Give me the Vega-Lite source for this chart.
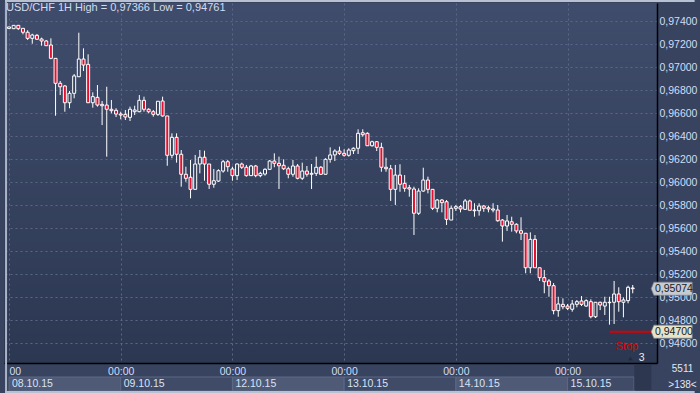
{
  "$schema": "https://vega.github.io/schema/vega-lite/v6.json",
  "background": "#38435f",
  "padding": {"left": 4, "top": 3, "right": 43, "bottom": 30},
  "autosize": "none",
  "width": 653,
  "height": 360,
  "view": {"stroke": null, "fill": {"gradient": "linear", "x1": 0, "y1": 0, "x2": 0, "y2": 1, "stops": [{"offset": 0, "color": "#3f4c6b"}, {"offset": 1, "color": "#2c3852"}]}},
  "config": {
    "locale": {"number": {"decimal": ",", "thousands": ".", "grouping": [3], "currency": ["", ""]}},
    "axis": {"labelFont": "Liberation Sans", "labelFontSize": 10.5, "labelColor": "#d0def6", "ticks": false, "title": null, "gridColor": "#5a6785", "gridDash": [2, 3], "gridWidth": 1, "domainColor": "#000000", "domainWidth": 1.5},
    "text": {"font": "Liberation Sans"}
  },
  "title": {"text": "USD/CHF 1H High = 0,97366 Low = 0,94761", "anchor": "start", "frame": "group", "offset": -13, "dx": 2, "font": "Liberation Sans", "fontSize": 11, "fontWeight": "normal", "color": "#d0dcf0"},
  "datasets": {
    "candles": [
      {"n":0,"o":0.97337,"h":0.97352,"l":0.97335,"c":0.97350},
      {"n":1,"o":0.97335,"h":0.97366,"l":0.97335,"c":0.97364},
      {"n":2,"o":0.97364,"h":0.97365,"l":0.97324,"c":0.97335},
      {"n":3,"o":0.97338,"h":0.97338,"l":0.97286,"c":0.97304},
      {"n":4,"o":0.97304,"h":0.97321,"l":0.97237,"c":0.97251},
      {"n":5,"o":0.97251,"h":0.97291,"l":0.97204,"c":0.97280},
      {"n":6,"o":0.97277,"h":0.97289,"l":0.97237,"c":0.97243},
      {"n":7,"o":0.97245,"h":0.97257,"l":0.97187,"c":0.97228},
      {"n":8,"o":0.97228,"h":0.97237,"l":0.97184,"c":0.97187},
      {"n":9,"o":0.97193,"h":0.97251,"l":0.97069,"c":0.97077},
      {"n":10,"o":0.97077,"h":0.97080,"l":0.96578,"c":0.96860},
      {"n":11,"o":0.96860,"h":0.96880,"l":0.96758,"c":0.96830},
      {"n":12,"o":0.96837,"h":0.96845,"l":0.96613,"c":0.96691},
      {"n":13,"o":0.96691,"h":0.96793,"l":0.96643,"c":0.96773},
      {"n":14,"o":0.96773,"h":0.96941,"l":0.96730,"c":0.96924},
      {"n":15,"o":0.96917,"h":0.97300,"l":0.96917,"c":0.97071},
      {"n":16,"o":0.97071,"h":0.97164,"l":0.96967,"c":0.97019},
      {"n":17,"o":0.97025,"h":0.97112,"l":0.96691,"c":0.96691},
      {"n":18,"o":0.96691,"h":0.96782,"l":0.96648,"c":0.96744},
      {"n":19,"o":0.96738,"h":0.96845,"l":0.96657,"c":0.96671},
      {"n":20,"o":0.96677,"h":0.96706,"l":0.96497,"c":0.96665},
      {"n":21,"o":0.96671,"h":0.96830,"l":0.96222,"c":0.96634},
      {"n":22,"o":0.96634,"h":0.96715,"l":0.96599,"c":0.96622},
      {"n":23,"o":0.96625,"h":0.96643,"l":0.96567,"c":0.96593},
      {"n":24,"o":0.96593,"h":0.96613,"l":0.96547,"c":0.96584},
      {"n":25,"o":0.96590,"h":0.96628,"l":0.96541,"c":0.96567},
      {"n":26,"o":0.96564,"h":0.96657,"l":0.96532,"c":0.96634},
      {"n":27,"o":0.96613,"h":0.96665,"l":0.96584,"c":0.96628},
      {"n":28,"o":0.96613,"h":0.96758,"l":0.96608,"c":0.96712},
      {"n":29,"o":0.96712,"h":0.96744,"l":0.96613,"c":0.96634},
      {"n":30,"o":0.96634,"h":0.96643,"l":0.96599,"c":0.96613},
      {"n":31,"o":0.96613,"h":0.96628,"l":0.96570,"c":0.96590},
      {"n":32,"o":0.96590,"h":0.96706,"l":0.96576,"c":0.96704},
      {"n":33,"o":0.96706,"h":0.96744,"l":0.96570,"c":0.96576},
      {"n":34,"o":0.96576,"h":0.96576,"l":0.96143,"c":0.96234},
      {"n":35,"o":0.96234,"h":0.96425,"l":0.96208,"c":0.96390},
      {"n":36,"o":0.96390,"h":0.96425,"l":0.96170,"c":0.96243},
      {"n":37,"o":0.96243,"h":0.96280,"l":0.95961,"c":0.96069},
      {"n":38,"o":0.96069,"h":0.96135,"l":0.96004,"c":0.96034},
      {"n":39,"o":0.96043,"h":0.96193,"l":0.95860,"c":0.95938},
      {"n":40,"o":0.95938,"h":0.96237,"l":0.95938,"c":0.96158},
      {"n":41,"o":0.96158,"h":0.96280,"l":0.96077,"c":0.96217},
      {"n":42,"o":0.96217,"h":0.96274,"l":0.96013,"c":0.96158},
      {"n":43,"o":0.96158,"h":0.96158,"l":0.95941,"c":0.95982},
      {"n":44,"o":0.95982,"h":0.96115,"l":0.95952,"c":0.96013},
      {"n":45,"o":0.96010,"h":0.96112,"l":0.96002,"c":0.96100},
      {"n":46,"o":0.96097,"h":0.96193,"l":0.96083,"c":0.96178},
      {"n":47,"o":0.96178,"h":0.96193,"l":0.96091,"c":0.96135},
      {"n":48,"o":0.96115,"h":0.96135,"l":0.96013,"c":0.96057},
      {"n":49,"o":0.96057,"h":0.96164,"l":0.96019,"c":0.96158},
      {"n":50,"o":0.96158,"h":0.96170,"l":0.96115,"c":0.96130},
      {"n":51,"o":0.96130,"h":0.96150,"l":0.96048,"c":0.96057},
      {"n":52,"o":0.96057,"h":0.96150,"l":0.96054,"c":0.96141},
      {"n":53,"o":0.96141,"h":0.96150,"l":0.96043,"c":0.96057},
      {"n":54,"o":0.96057,"h":0.96091,"l":0.96043,"c":0.96077},
      {"n":55,"o":0.96071,"h":0.96121,"l":0.96057,"c":0.96112},
      {"n":56,"o":0.96112,"h":0.96193,"l":0.96106,"c":0.96184},
      {"n":57,"o":0.96184,"h":0.96251,"l":0.96130,"c":0.96164},
      {"n":58,"o":0.96164,"h":0.96222,"l":0.95941,"c":0.96143},
      {"n":59,"o":0.96147,"h":0.96199,"l":0.96106,"c":0.96117},
      {"n":60,"o":0.96117,"h":0.96135,"l":0.96034,"c":0.96069},
      {"n":61,"o":0.96069,"h":0.96193,"l":0.96048,"c":0.96141},
      {"n":62,"o":0.96141,"h":0.96158,"l":0.96025,"c":0.96034},
      {"n":63,"o":0.96034,"h":0.96170,"l":0.96019,"c":0.96097},
      {"n":64,"o":0.96097,"h":0.96141,"l":0.96048,"c":0.96069},
      {"n":65,"o":0.96069,"h":0.96158,"l":0.95941,"c":0.96077},
      {"n":66,"o":0.96077,"h":0.96222,"l":0.96054,"c":0.96130},
      {"n":67,"o":0.96130,"h":0.96141,"l":0.96063,"c":0.96069},
      {"n":68,"o":0.96069,"h":0.96208,"l":0.96069,"c":0.96199},
      {"n":69,"o":0.96199,"h":0.96303,"l":0.96170,"c":0.96237},
      {"n":70,"o":0.96237,"h":0.96286,"l":0.96184,"c":0.96271},
      {"n":71,"o":0.96271,"h":0.96309,"l":0.96237,"c":0.96251},
      {"n":72,"o":0.96251,"h":0.96286,"l":0.96222,"c":0.96234},
      {"n":73,"o":0.96234,"h":0.96295,"l":0.96222,"c":0.96280},
      {"n":74,"o":0.96274,"h":0.96303,"l":0.96245,"c":0.96295},
      {"n":75,"o":0.96295,"h":0.96460,"l":0.96245,"c":0.96425},
      {"n":76,"o":0.96430,"h":0.96460,"l":0.96396,"c":0.96413},
      {"n":77,"o":0.96425,"h":0.96434,"l":0.96317,"c":0.96317},
      {"n":78,"o":0.96317,"h":0.96361,"l":0.96309,"c":0.96352},
      {"n":79,"o":0.96352,"h":0.96358,"l":0.96271,"c":0.96303},
      {"n":80,"o":0.96303,"h":0.96343,"l":0.96091,"c":0.96130},
      {"n":81,"o":0.96130,"h":0.96213,"l":0.96091,"c":0.96117},
      {"n":82,"o":0.96117,"h":0.96150,"l":0.95837,"c":0.95938},
      {"n":83,"o":0.95938,"h":0.96150,"l":0.95802,"c":0.96062},
      {"n":84,"o":0.96062,"h":0.96156,"l":0.95917,"c":0.95982},
      {"n":85,"o":0.95990,"h":0.96062,"l":0.95917,"c":0.95947},
      {"n":86,"o":0.95952,"h":0.95976,"l":0.95874,"c":0.95941},
      {"n":87,"o":0.95941,"h":0.95961,"l":0.95541,"c":0.95730},
      {"n":88,"o":0.95730,"h":0.95947,"l":0.95715,"c":0.95923},
      {"n":89,"o":0.95923,"h":0.96126,"l":0.95917,"c":0.96019},
      {"n":90,"o":0.96019,"h":0.96048,"l":0.95903,"c":0.95938},
      {"n":91,"o":0.95938,"h":0.95941,"l":0.95758,"c":0.95773},
      {"n":92,"o":0.95773,"h":0.95854,"l":0.95738,"c":0.95845},
      {"n":93,"o":0.95845,"h":0.95854,"l":0.95738,"c":0.95822},
      {"n":94,"o":0.95830,"h":0.95845,"l":0.95628,"c":0.95677},
      {"n":95,"o":0.95671,"h":0.95796,"l":0.95671,"c":0.95773},
      {"n":96,"o":0.95773,"h":0.95802,"l":0.95750,"c":0.95787},
      {"n":97,"o":0.95787,"h":0.95802,"l":0.95738,"c":0.95767},
      {"n":98,"o":0.95764,"h":0.95854,"l":0.95758,"c":0.95837},
      {"n":99,"o":0.95837,"h":0.95848,"l":0.95756,"c":0.95756},
      {"n":100,"o":0.95758,"h":0.95817,"l":0.95700,"c":0.95752},
      {"n":101,"o":0.95752,"h":0.95817,"l":0.95709,"c":0.95793},
      {"n":102,"o":0.95793,"h":0.95802,"l":0.95743,"c":0.95773},
      {"n":103,"o":0.95778,"h":0.95796,"l":0.95738,"c":0.95767},
      {"n":104,"o":0.95767,"h":0.95817,"l":0.95738,"c":0.95758},
      {"n":105,"o":0.95758,"h":0.95802,"l":0.95656,"c":0.95665},
      {"n":106,"o":0.95671,"h":0.95680,"l":0.95483,"c":0.95619},
      {"n":107,"o":0.95619,"h":0.95715,"l":0.95576,"c":0.95663},
      {"n":108,"o":0.95656,"h":0.95700,"l":0.95570,"c":0.95634},
      {"n":109,"o":0.95634,"h":0.95643,"l":0.95556,"c":0.95576},
      {"n":110,"o":0.95578,"h":0.95695,"l":0.95497,"c":0.95556},
      {"n":111,"o":0.95556,"h":0.95556,"l":0.95208,"c":0.95256},
      {"n":112,"o":0.95256,"h":0.95564,"l":0.95208,"c":0.95503},
      {"n":113,"o":0.95503,"h":0.95541,"l":0.95256,"c":0.95256},
      {"n":114,"o":0.95256,"h":0.95256,"l":0.95141,"c":0.95170},
      {"n":115,"o":0.95170,"h":0.95237,"l":0.95034,"c":0.95135},
      {"n":116,"o":0.95141,"h":0.95158,"l":0.95004,"c":0.95100},
      {"n":117,"o":0.95100,"h":0.95123,"l":0.94851,"c":0.94883},
      {"n":118,"o":0.94883,"h":0.95004,"l":0.94830,"c":0.94941},
      {"n":119,"o":0.94938,"h":0.94990,"l":0.94895,"c":0.94917},
      {"n":120,"o":0.94923,"h":0.94941,"l":0.94888,"c":0.94903},
      {"n":121,"o":0.94895,"h":0.94976,"l":0.94874,"c":0.94941},
      {"n":122,"o":0.94938,"h":0.94976,"l":0.94912,"c":0.94961},
      {"n":123,"o":0.94967,"h":0.95010,"l":0.94923,"c":0.94938},
      {"n":124,"o":0.94923,"h":0.94982,"l":0.94917,"c":0.94970},
      {"n":125,"o":0.94961,"h":0.94982,"l":0.94816,"c":0.94830},
      {"n":126,"o":0.94830,"h":0.94958,"l":0.94819,"c":0.94956},
      {"n":127,"o":0.94956,"h":0.94961,"l":0.94888,"c":0.94932},
      {"n":128,"o":0.94923,"h":0.95004,"l":0.94845,"c":0.94956},
      {"n":129,"o":0.94952,"h":0.95004,"l":0.94761,"c":0.94956},
      {"n":130,"o":0.94956,"h":0.95141,"l":0.94767,"c":0.95028},
      {"n":131,"o":0.95028,"h":0.95086,"l":0.94874,"c":0.94961},
      {"n":132,"o":0.94956,"h":0.94999,"l":0.94825,"c":0.94976},
      {"n":133,"o":0.94970,"h":0.95100,"l":0.94947,"c":0.95086},
      {"n":134,"o":0.95080,"h":0.95106,"l":0.95034,"c":0.95074}
    ],
    "levels": [
      {"name": "bid", "p": 0.95074},
      {"name": "stop", "p": 0.94700}
    ],
    "days": [
      {"n": 0, "e": 24, "d": "08.10.15"},
      {"n": 24, "e": 48, "d": "09.10.15"},
      {"n": 48, "e": 72, "d": "12.10.15"},
      {"n": 72, "e": 96, "d": "13.10.15"},
      {"n": 96, "e": 120, "d": "14.10.15"},
      {"n": 120, "e": 134.3, "d": "15.10.15"}
    ]
  },
  "data": {"name": "candles"},
  "encoding": {
    "y": {"type": "quantitative", "scale": {"domain": [0.944278, 0.975583], "nice": false, "zero": false},
      "axis": {"orient": "right", "values": [0.946, 0.948, 0.95, 0.952, 0.954, 0.956, 0.958, 0.96, 0.962, 0.964, 0.966, 0.968, 0.97, 0.972, 0.974], "format": ".5f", "labelPadding": 2, "grid": true}}
  },
  "layer": [
    {
      "mark": {"type": "rule", "color": "#ffffff", "strokeWidth": 1, "clip": true},
      "encoding": {
        "x": {"field": "n", "type": "quantitative", "scale": {"domain": [0, 138.14], "nice": false, "zero": false},
          "axis": {"values": [0, 24, 48, 72, 96, 120], "labelExpr": "datum.value === 0 ? '00' : '00:00'", "labelAlign": {"condition": {"test": "datum.value === 0", "value": "left"}, "value": "center"}, "labelPadding": 3, "grid": true}},
        "y": {"field": "h", "type": "quantitative"},
        "y2": {"field": "l"}
      }
    },
    {
      "mark": {"type": "bar", "width": 3, "stroke": "#ffffff", "strokeWidth": 1, "clip": true},
      "encoding": {
        "x": {"field": "n", "type": "quantitative"},
        "y": {"field": "o", "type": "quantitative"},
        "y2": {"field": "c"},
        "fill": {"condition": {"test": "datum.c < datum.o", "value": "#e5102f"}, "value": "#36425f"}
      }
    },
    {
      "data": {"name": "days"},
      "mark": {"type": "rect", "stroke": "#5d6986", "strokeWidth": 1, "clip": false},
      "encoding": {
        "x": {"field": "n", "type": "quantitative"},
        "x2": {"field": "e"},
        "y": {"datum": 0.94306},
        "y2": {"datum": 0.94184},
        "fill": {"condition": {"test": "datum.n % 48 === 0", "value": "#4e5a76"}, "value": "#404b68"}
      }
    },
    {
      "data": {"name": "days"},
      "mark": {"type": "text", "align": "left", "baseline": "middle", "dx": 3, "fontSize": 10.5, "color": "#d8e4f6", "clip": false},
      "encoding": {"x": {"field": "n", "type": "quantitative"}, "y": {"datum": 0.94243}, "text": {"field": "d"}}
    },
    {
      "data": {"values": [{"k": "scrollbox"}]},
      "mark": {"type": "rect", "color": "#2d374f", "clip": false},
      "encoding": {"x": {"datum": 134.33}, "x2": {"datum": 138.0}, "y": {"datum": 0.94410}, "y2": {"datum": 0.94193}}
    },
    {
      "data": {"values": [{"k": "frame"}]},
      "mark": {"type": "rect", "color": "#aab4c6", "clip": false},
      "encoding": {"x": {"datum": -0.85}, "x2": {"datum": -0.42}, "y": {"datum": 0.975844}, "y2": {"datum": 0.94167}}
    },
    {
      "data": {"values": [{"k": "frame"}]},
      "mark": {"type": "rect", "color": "#b8c1d1", "clip": false},
      "encoding": {"x": {"datum": -0.85}, "x2": {"datum": 147.3}, "y": {"datum": 0.975844}, "y2": {"datum": 0.97567}}
    },
    {
      "data": {"values": [{"k": "frame"}]},
      "mark": {"type": "rect", "color": "#b8c1d1", "clip": false},
      "encoding": {"x": {"datum": -0.85}, "x2": {"datum": 147.3}, "y": {"datum": 0.94184}, "y2": {"datum": 0.94160}}
    },
    {
      "data": {"values": [{"k": "stop"}]},
      "mark": {"type": "rule", "color": "#d80000", "strokeWidth": 2, "clip": false},
      "encoding": {"x": {"datum": 129}, "x2": {"datum": 138.14}, "y": {"datum": 0.947}}
    },
    {
      "data": {"values": [{"k": "stop"}]},
      "mark": {"type": "text", "text": "Stop", "color": "#e00000", "fontSize": 11, "align": "left", "baseline": "alphabetic"},
      "encoding": {"x": {"datum": 130.3}, "y": {"datum": 0.94541}}
    },
    {
      "data": {"values": [{"k": "scroll"}]},
      "mark": {"type": "point", "shape": "triangle-up", "filled": true, "color": "#222a3c", "size": 22, "opacity": 1},
      "encoding": {"x": {"datum": 133.5}, "y": {"datum": 0.94467}}
    },
    {
      "data": {"values": [{"k": "scroll"}]},
      "mark": {"type": "text", "text": "3", "color": "#e6ecf6", "fontSize": 10.5, "align": "left", "baseline": "alphabetic", "clip": false},
      "encoding": {"x": {"datum": 135.3}, "y": {"datum": 0.94445}}
    },
    {
      "data": {"values": [{"k": "info"}]},
      "mark": {"type": "text", "text": "5511", "align": "center", "baseline": "middle", "fontSize": 10, "color": "#e0e8f4", "clip": false},
      "encoding": {"x": {"datum": 144.7}, "y": {"datum": 0.94376}}
    },
    {
      "data": {"values": [{"k": "info"}]},
      "mark": {"type": "text", "text": ">138<", "align": "center", "baseline": "middle", "fontSize": 10, "color": "#e0e8f4", "clip": false},
      "encoding": {"x": {"datum": 144.7}, "y": {"datum": 0.94236}}
    },
    {
      "data": {"name": "levels"},
      "mark": {"type": "point", "shape": "M-1,0L-0.87,-0.32L1,-0.32L1,0.32L-0.87,0.32Z", "filled": true, "size": 1681, "opacity": 1, "clip": false, "stroke": "#7d8594", "strokeWidth": 0.7},
      "encoding": {
        "x": {"datum": 142.37},
        "y": {"field": "p", "type": "quantitative"},
        "fill": {"condition": {"test": "datum.name === 'stop'", "value": "#e6e3c8"}, "value": "#c7cbd1"}
      }
    },
    {
      "data": {"name": "levels"},
      "mark": {"type": "text", "align": "left", "baseline": "middle", "fontSize": 10.5, "color": "#151a26", "clip": false},
      "encoding": {
        "x": {"datum": 138.78},
        "y": {"field": "p", "type": "quantitative"},
        "text": {"field": "p", "type": "quantitative", "format": ".5f"}
      }
    }
  ]
}
